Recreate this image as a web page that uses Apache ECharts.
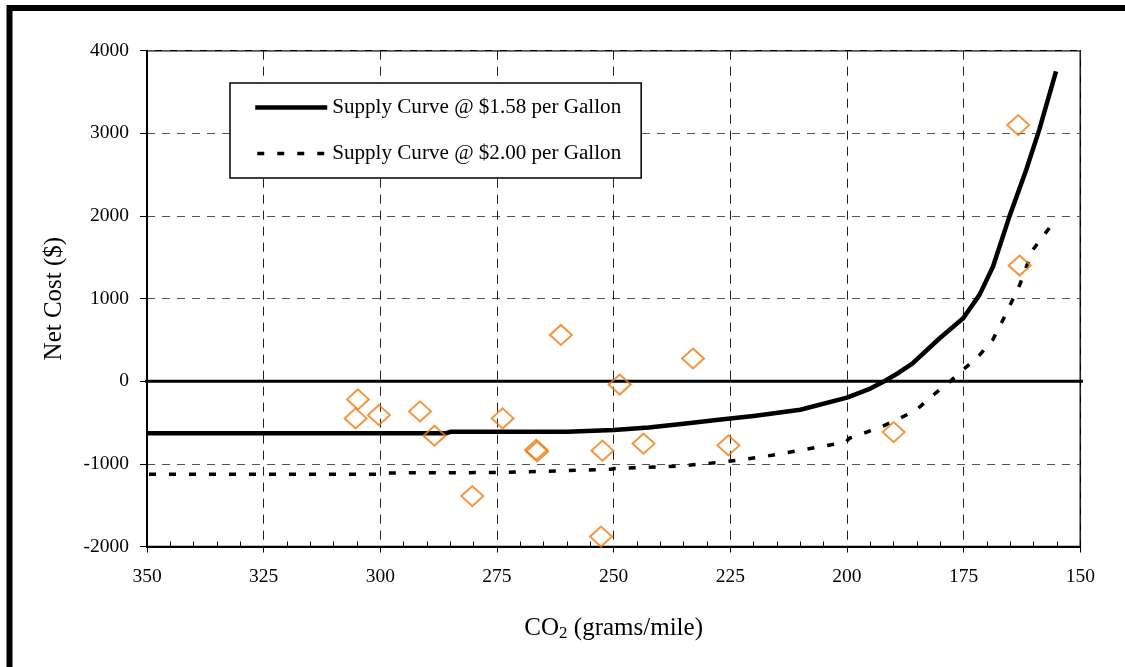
<!DOCTYPE html>
<html><head><meta charset="utf-8">
<script src="https://cdn.jsdelivr.net/npm/echarts@6/dist/echarts.min.js"></script>
<style>html,body{margin:0;padding:0;background:#fff}#c{width:1125px;height:667px}</style>
</head><body><div id="c"></div>
<script>
// ---- data ----
const seriesNames = ['Supply Curve @ $1.58 per Gallon', 'Supply Curve @ $2.00 per Gallon'];
const curve158X = [350, 300, 286, 285, 275, 260, 250, 242.5, 235, 227.5, 220, 210, 200, 195, 192, 189, 186, 180.2, 175.1, 171.6, 168.7, 165.2, 161.6, 158.8, 155.2];
const curve158Y = [-630, -630, -630, -612, -612, -610, -590, -560, -515, -467, -420, -345, -198, -89, 0, 100, 214, 517, 762, 1045, 1388, 1992, 2557, 3042, 3749];
const curve200X = [350, 300, 299, 275, 265, 253, 250.5, 250, 236, 226.6, 218.4, 206, 200.2, 199.5, 193, 188.8, 185.2, 181.6, 178, 175.2, 171.6, 168.8, 166.6, 163, 160.2, 156.3];
const curve200Y = [-1125, -1125, -1110, -1105, -1090, -1070, -1065, -1058, -1027, -978, -918, -796, -736, -690, -561, -452, -351, -170, -8, 133, 315, 497, 739, 1164, 1588, 1880];
const vehicleX = [261.3, 248.7, 304.8, 305.3, 300.3, 291.5, 288.4, 273.8, 266.6, 266.4, 252.4, 243.6, 280.3, 252.7, 233, 190, 225.4, 163.3, 163];
const vehicleY = [560, -40, -220, -450, -410, -365, -660, -450, -830, -850, -840, -755, -1390, -1880, 275, -615, -776, 3100, 1400];
const zeroLineX = [352.4, 147.4];
const zeroLineY = [0, 0];
const xTicks = {min: 150, max: 350, interval: 25};
const yTicks = {min: -2000, max: 4000, interval: 1000};

const zip = (xs, ys) => xs.map((x, i) => [x, ys[i]]);
const FONT = "'Liberation Serif', 'Times New Roman', serif";

const chart = echarts.init(document.getElementById('c'), null, {renderer: 'canvas'});
chart.setOption({
  animation: false,
  backgroundColor: '#fff',
  textStyle: {fontFamily: FONT, color: '#000'},
  graphic: [{
    type: 'rect', silent: true, z: 100,
    shape: {x: 9.5, y: 8, width: 1300, height: 900},
    style: {fill: 'none', stroke: '#000', lineWidth: 6}
  }],
  grid: {left: 147, right: 44.7, top: 50.7, bottom: 120.5, show: true, borderColor: '#000', borderWidth: 1.5, backgroundColor: 'transparent'},
  legend: {
    orient: 'vertical', left: 230, top: 83,
    data: [
      {name: seriesNames[0], itemStyle: {opacity: 0}, lineStyle: {width: 4.5, color: '#000'}},
      {name: seriesNames[1], itemStyle: {opacity: 0}, lineStyle: {width: 3.5, color: '#000', type: [7, 13], dashOffset: -2}}
    ],
    itemWidth: 72, itemHeight: 24, itemGap: 25,
    padding: [14, 20, 14, 23],
    borderColor: '#000', borderWidth: 1.5, backgroundColor: '#fff',
    textStyle: {fontFamily: FONT, fontSize: 21.1, color: '#000'},
    selectedMode: false
  },
  xAxis: {
    type: 'value', inverse: true,
    min: xTicks.min, max: xTicks.max, interval: xTicks.interval,
    name: '{a|CO}{b|2}{a| (grams/mile)}',
    nameLocation: 'middle', nameGap: 68,
    nameTextStyle: {
      rich: {
        a: {fontFamily: FONT, fontSize: 25, color: '#000', lineHeight: 28},
        b: {fontFamily: FONT, fontSize: 17, color: '#000', lineHeight: 28, verticalAlign: 'bottom', padding: [11, 0, 0, 0]}
      }
    },
    axisLine: {show: true, onZero: false, lineStyle: {color: '#000', width: 2}},
    axisTick: {show: true, length: 6, lineStyle: {color: '#000', width: 1}},
    minorTick: {show: true, splitNumber: 5, length: -5, lineStyle: {color: '#000', width: 1}},
    axisLabel: {fontFamily: FONT, fontSize: 19.5, color: '#000', margin: 20},
    splitLine: {show: true, lineStyle: {color: '#222', width: 1, type: [9, 7]}}
  },
  yAxis: {
    type: 'value',
    min: yTicks.min, max: yTicks.max, interval: yTicks.interval,
    name: 'Net Cost ($)', nameLocation: 'middle', nameGap: 80,
    nameTextStyle: {fontFamily: FONT, fontSize: 25, color: '#000'},
    axisLine: {show: true, onZero: false, lineStyle: {color: '#000', width: 2}},
    axisTick: {show: true, length: 7, lineStyle: {color: '#000', width: 1}},
    axisLabel: {fontFamily: FONT, fontSize: 19.5, color: '#000', margin: 18, formatter: v => String(v)},
    splitLine: {show: true, lineStyle: {color: '#555', width: 1, type: [8, 7]}}
  },
  series: [
    {
      name: 'zero', type: 'line', data: zip(zeroLineX, zeroLineY),
      symbol: 'none', clip: false, silent: true, z: 1,
      lineStyle: {color: '#000', width: 3}
    },
    {
      name: seriesNames[0], type: 'line', data: zip(curve158X, curve158Y),
      symbol: 'none', clip: false, z: 3,
      lineStyle: {color: '#000', width: 4.5, cap: 'butt', join: 'round'},
      itemStyle: {color: '#000'}
    },
    {
      name: seriesNames[1], type: 'line', data: zip(curve200X, curve200Y),
      symbol: 'none', clip: false, z: 3,
      lineStyle: {color: '#000', width: 3.5, type: [7, 13], dashOffset: -2, cap: 'butt'},
      itemStyle: {color: '#000'}
    },
    {
      name: 'vehicles', type: 'scatter', data: zip(vehicleX, vehicleY),
      symbol: 'diamond', symbolSize: [22, 20], z: 4,
      itemStyle: {color: 'rgba(255,255,255,0)', borderColor: '#F07C12', borderWidth: 2}
    }
  ]
});
</script></body></html>
